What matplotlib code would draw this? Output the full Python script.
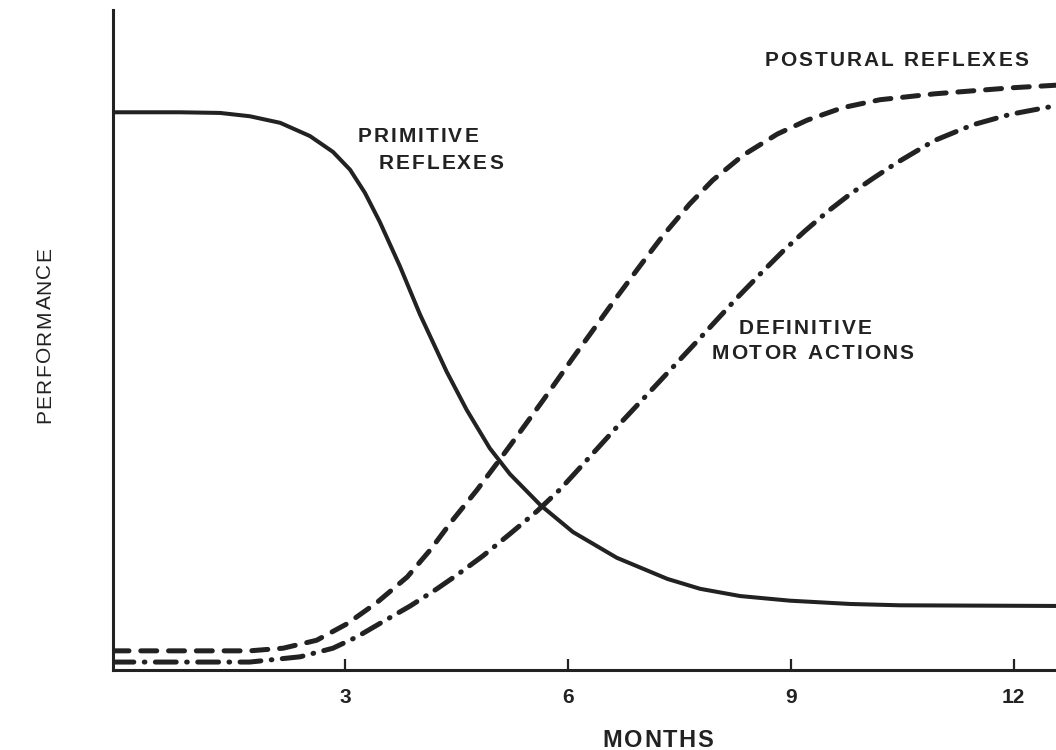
import numpy as np
import matplotlib
matplotlib.use("Agg")
import matplotlib.pyplot as plt
from matplotlib import font_manager
from matplotlib.ft2font import FT2Font

plt.rcParams['font.family'] = ['Liberation Sans', 'DejaVu Sans']
plt.rcParams['lines.scale_dashes'] = False

# values (months, performance on a 0-100 scale)
primitive_x = [-0.12, 0.78, 1.32, 1.72, 2.13, 2.53, 2.84, 3.07, 3.27, 3.47, 3.74,
               4.01, 4.37, 4.64, 4.95, 5.22, 5.63, 6.07, 6.66, 7.34, 7.78, 8.32,
               8.99, 9.80, 10.47, 12.57]
primitive_y = [84.5, 84.5, 84.4, 83.9, 82.9, 80.9, 78.5, 75.8, 72.3, 67.9, 61.2,
               53.9, 45.2, 39.4, 33.6, 29.7, 25.0, 20.9, 17.0, 13.8, 12.3, 11.2,
               10.5, 10.0, 9.8, 9.7]

postural_x = [-0.12, 1.72, 2.17, 2.62, 3.03, 3.43, 3.84, 4.15, 4.45, 4.78, 5.06,
              5.36, 5.67, 6.07, 6.34, 6.66, 6.97, 7.28, 7.64, 7.95, 8.36, 8.82,
              9.22, 9.70, 10.20, 10.94, 11.96, 12.57]
postural_y = [2.9, 2.9, 3.3, 4.5, 7.0, 10.2, 14.1, 18.2, 22.7, 27.3, 31.5,
              36.1, 40.9, 47.3, 51.5, 56.5, 61.2, 65.8, 70.6, 74.2, 78.0, 81.2,
              83.3, 85.2, 86.4, 87.3, 88.2, 88.6]

definitive_x = [-0.12, 1.72, 2.40, 2.84, 3.16, 3.51, 3.88, 4.24, 4.51, 4.86, 5.22,
                5.59, 5.90, 6.16, 6.70, 7.20, 7.74, 8.28, 8.59, 8.90, 9.19, 9.49,
                9.80, 10.11, 10.42, 10.93, 11.45, 11.96, 12.57]
definitive_y = [1.2, 1.2, 2.0, 3.3, 5.0, 7.3, 9.7, 12.3, 14.4, 17.3, 20.6,
                24.1, 27.4, 30.6, 37.3, 43.3, 49.8, 56.4, 60.0, 63.5, 66.5, 69.4,
                72.1, 74.5, 76.8, 80.2, 82.6, 84.2, 85.5]

month_ticks = [3, 6, 9, 12]

ink = '#222222'


def spaced_text(ax, xy, s, size, track=1.5, weight='bold', rotation=0,
                coords='data'):
    # matplotlib has no letter spacing, so place the letters one by one
    fp = font_manager.FontProperties(family='Liberation Sans', weight=weight)
    font = FT2Font(font_manager.findfont(fp))
    font.set_size(size, 72)
    adv = [font.load_char(ord(c)).linearHoriAdvance / 65536.0 for c in s]
    total = sum(adv) + track * (len(s) - 1)
    pos = -total / 2.0
    d = np.array([np.cos(np.radians(rotation)), np.sin(np.radians(rotation))])
    for c, a in zip(s, adv):
        off = d * (pos + a / 2.0)
        if c != ' ':
            ax.annotate(c, xy, xycoords=coords, xytext=tuple(off),
                        textcoords='offset points', ha='center', va='center',
                        rotation=rotation, fontsize=size, fontweight=weight,
                        fontfamily='Liberation Sans', color=ink,
                        annotation_clip=False)
        pos += a + track


fig = plt.figure(figsize=(10.56, 7.5), dpi=100)
ax = fig.add_axes([0.107, 0.1067, 0.893, 0.88])

ax.plot(primitive_x, primitive_y, color=ink, lw=2.9, solid_capstyle='round',
        solid_joinstyle='round')
ax.plot(postural_x, postural_y, color=ink, lw=3.6, dashes=(11.5, 8.5),
        dash_capstyle='round', dash_joinstyle='round')
ax.plot(definitive_x, definitive_y, color=ink, lw=3.6, dashes=(15, 7.5, 0.5, 7.5),
        dash_capstyle='round', dash_joinstyle='round')

ax.set_xlim(-0.12, 12.57)
ax.set_ylim(0, 100)

for s in ['top', 'right']:
    ax.spines[s].set_visible(False)
for s in ['left', 'bottom']:
    ax.spines[s].set_linewidth(2.2)
    ax.spines[s].set_color(ink)

ax.set_xticks(month_ticks)
ax.set_xticklabels([str(m) for m in month_ticks], fontsize=15,
                   fontweight='bold', color=ink)
ax.set_yticks([])
ax.tick_params(axis='x', direction='in', length=8, width=1.6, color=ink, pad=13)

spaced_text(ax, (0.623, 0.0133), 'MONTHS', 17, track=1.2,
            coords='figure fraction')
spaced_text(ax, (0.0426, 0.553), 'PERFORMANCE', 15, track=1.0, weight='normal',
            rotation=90, coords='figure fraction')

spaced_text(ax, (3.98, 80.8), 'PRIMITIVE', 15)
spaced_text(ax, (4.29, 76.8), 'REFLEXES', 15)
spaced_text(ax, (10.42, 92.4), 'POSTURAL REFLEXES', 15)
spaced_text(ax, (9.19, 51.8), 'DEFINITIVE', 15)
spaced_text(ax, (9.29, 48.0), 'MOTOR ACTIONS', 15)

fig.savefig('out.png', dpi=100)
